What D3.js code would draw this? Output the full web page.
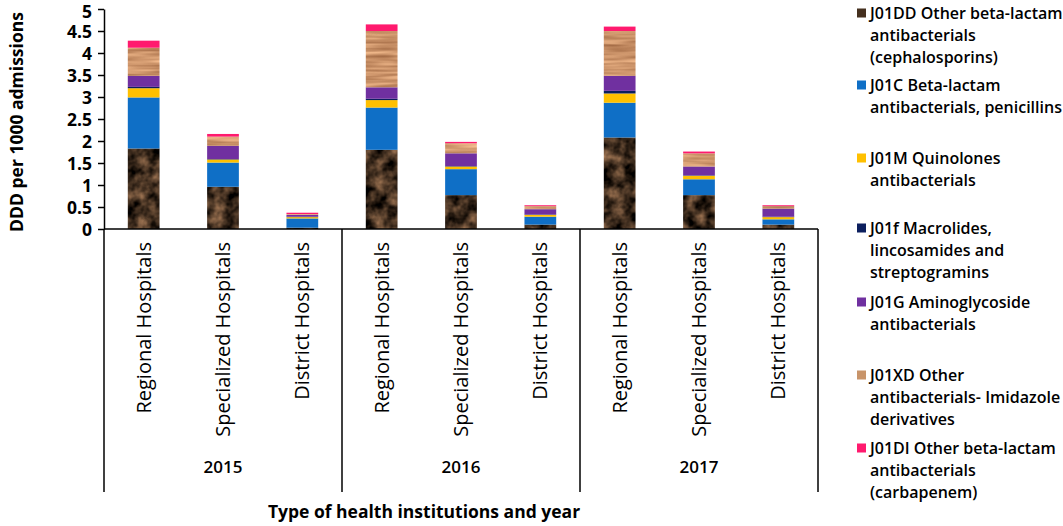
<!DOCTYPE html>
<html>
<head>
<meta charset="utf-8">
<title>DDD per 1000 admissions</title>
<script src="https://cdn.jsdelivr.net/npm/d3@7"></script>
<style>
    body { margin: 0; background: #fff; }
    text { font-family: "Open Sans", sans-serif; fill: #000; }
    .axis path, .axis line { stroke: #000; stroke-width: 1.5px; }
    .axis text { font-size: 17.5px; font-weight: 700; }
    filter { color-interpolation-filters: sRGB; }
</style>
</head>
<body>
<script>
// data
var years = ["2015", "2016", "2017"];
var hospitals = ["Regional Hospitals", "Specialized Hospitals", "District Hospitals"];
var series = [
    "J01DD Other beta-lactam antibacterials (cephalosporins)",
    "J01C Beta-lactam antibacterials, penicillins",
    "J01M Quinolones antibacterials",
    "J01f Macrolides, lincosamides and streptogramins",
    "J01G Aminoglycoside antibacterials",
    "J01XD Other antibacterials- Imidazole derivatives",
    "J01DI Other beta-lactam antibacterials (carbapenem)"
];
// order: 2015 R,S,D | 2016 R,S,D | 2017 R,S,D
var j01dd = [1.83, 0.96, 0.03, 1.80, 0.77, 0.10, 2.08, 0.77, 0.10];
var j01c  = [1.16, 0.55, 0.21, 0.96, 0.59, 0.18, 0.79, 0.36, 0.12];
var j01m  = [0.21, 0.07, 0.03, 0.17, 0.06, 0.04, 0.21, 0.08, 0.05];
var j01f  = [0.03, 0.01, 0.01, 0.03, 0.01, 0.01, 0.06, 0.01, 0.01];
var j01g  = [0.25, 0.30, 0.04, 0.26, 0.29, 0.12, 0.34, 0.20, 0.18];
var j01xd = [0.64, 0.21, 0.02, 1.28, 0.23, 0.07, 1.02, 0.30, 0.06];
var j01di = [0.16, 0.06, 0.03, 0.15, 0.03, 0.02, 0.10, 0.04, 0.02];
var yTicks = [0, 0.5, 1, 1.5, 2, 2.5, 3, 3.5, 4, 4.5, 5];

// legend text broken as in the picture
var legendLines = [
    ["J01DD Other beta-lactam", "antibacterials", "(cephalosporins)"],
    ["J01C Beta-lactam", "antibacterials, penicillins"],
    ["J01M Quinolones", "antibacterials"],
    ["J01f Macrolides,", "lincosamides and", "streptogramins"],
    ["J01G Aminoglycoside", "antibacterials"],
    ["J01XD Other", "antibacterials- Imidazole", "derivatives"],
    ["J01DI Other beta-lactam", "antibacterials", "(carbapenem)"]
];
var values = [j01dd, j01c, j01m, j01f, j01g, j01xd, j01di];
var swatch = ["#45301f", "#0f6fc6", "#ffc000", "#0c1f5e", "#7030a0", "#c8946a", "#ff1a6e"];

var width = 1063, height = 526;
var plotLeft = 104, plotRight = 818, plotTop = 9, plotBottom = 229;

var keys = [];
years.forEach(function (yr) {
    hospitals.forEach(function (h) { keys.push(yr + "|" + h); });
});

var rows = keys.map(function (k, i) {
    var r = { key: k };
    series.forEach(function (s, j) { r[s] = values[j][i]; });
    return r;
});

var stack = d3.stack().keys(series)(rows);

var x = d3.scaleBand()
        .domain(keys)
        .range([plotLeft, plotRight])
        .paddingInner(0.6)
        .paddingOuter(0.3);

var y = d3.scaleLinear()
        .domain([0, 5])
        .range([plotBottom, plotTop]);

var svg = d3.select("body").append("svg")
        .attr("width", width)
        .attr("height", height);

var defs = svg.append("defs");

// mottled dark brown texture
var fm = defs.append("filter").attr("id", "marbleTex")
        .attr("x", 0).attr("y", 0).attr("width", 1).attr("height", 1);
fm.append("feTurbulence").attr("type", "fractalNoise")
        .attr("baseFrequency", "0.08").attr("numOctaves", 3).attr("seed", 4);
fm.append("feColorMatrix").attr("type", "matrix")
        .attr("values", "1.0 0 0 0 -0.24  0.75 0 0 0 -0.19  0.55 0 0 0 -0.15  0 0 0 0 1");
fm.append("feComposite").attr("operator", "in").attr("in2", "SourceGraphic");

// streaky tan texture
var fw = defs.append("filter").attr("id", "woodTex")
        .attr("x", 0).attr("y", 0).attr("width", 1).attr("height", 1);
fw.append("feTurbulence").attr("type", "fractalNoise")
        .attr("baseFrequency", "0.02 0.25").attr("numOctaves", 2).attr("seed", 2);
fw.append("feColorMatrix").attr("type", "matrix")
        .attr("values", "0.5 0 0 0 0.55  0.5 0 0 0 0.33  0.45 0 0 0 0.19  0 0 0 0 1");
fw.append("feComposite").attr("operator", "in").attr("in2", "SourceGraphic");

// bars
var layer = svg.append("g").selectAll("g")
        .data(stack)
        .join("g");

layer.selectAll("rect")
        .data(function (d) { return d.map(function (p) { p.idx = d.index; return p; }); })
        .join("rect")
        .attr("x", function (d) { return x(d.data.key); })
        .attr("y", function (d) { return y(d[1]); })
        .attr("width", x.bandwidth())
        .attr("height", function (d) { return y(d[0]) - y(d[1]); })
        .attr("fill", function (d) { return swatch[d.idx]; })
        .attr("filter", function (d) {
            if (d.idx === 0) return "url(#marbleTex)";
            if (d.idx === 5) return "url(#woodTex)";
            return null;
        });

// y axis
svg.append("g")
        .attr("class", "axis")
        .attr("transform", "translate(" + plotLeft + ",0)")
        .call(d3.axisLeft(y).tickValues(yTicks).tickSize(6).tickSizeOuter(0)
                .tickFormat(function (d) { return d; }))
        .call(function (g) {
            g.selectAll("text").attr("x", -12)
                    .attr("dy", function (d) { return d === 5 ? "0.5em" : "0.35em"; });
        });

// x axis baseline and group dividers
var groupEnd = 492;
var xa = svg.append("g").attr("class", "axis");
xa.append("line")
        .attr("x1", plotLeft).attr("x2", plotRight)
        .attr("y1", plotBottom).attr("y2", plotBottom);

var groupEdges = years.map(function (yr) { return x(yr + "|" + hospitals[0]) - x.step() * x.paddingOuter(); });
groupEdges.push(plotRight);
xa.selectAll(".div")
        .data(groupEdges)
        .join("line")
        .attr("class", "div")
        .attr("x1", function (d) { return d; }).attr("x2", function (d) { return d; })
        .attr("y1", plotBottom).attr("y2", groupEnd);

// category labels, rotated
svg.append("g").selectAll("text")
        .data(keys)
        .join("text")
        .attr("transform", function (d) {
            return "translate(" + (x(d) + x.bandwidth() / 2) + "," + 242 + ") rotate(-90)";
        })
        .attr("text-anchor", "end")
        .attr("dy", "0.35em")
        .style("font-size", "20px")
        .style("font-weight", 500)
        .text(function (d) { return d.split("|")[1]; });

// year labels
svg.append("g").selectAll("text")
        .data(years)
        .join("text")
        .attr("x", function (d, i) { return (groupEdges[i] + groupEdges[i + 1]) / 2; })
        .attr("y", 467)
        .attr("dy", "0.35em")
        .attr("text-anchor", "middle")
        .style("font-size", "17px")
        .style("font-weight", 600)
        .text(function (d) { return d; });

// axis titles
svg.append("text")
        .attr("x", 424)
        .attr("y", 512)
        .attr("dy", "0.35em")
        .attr("text-anchor", "middle")
        .style("font-size", "17.5px")
        .style("font-weight", 700)
        .text("Type of health institutions and year");

svg.append("text")
        .attr("transform", "translate(17,122) rotate(-90)")
        .attr("dy", "0.35em")
        .attr("text-anchor", "middle")
        .style("font-size", "17.5px")
        .style("font-weight", 700)
        .text("DDD per 1000 admissions");

// legend
var lineH = 22;
var itemTop = [13, 85, 158, 228, 302, 375, 448];
var legend = svg.append("g").selectAll("g")
        .data(legendLines)
        .join("g")
        .attr("transform", function (d, i) { return "translate(857," + itemTop[i] + ")"; });

legend.append("rect")
        .attr("x", 0).attr("y", -4.5)
        .attr("width", 9).attr("height", 9)
        .attr("fill", function (d, i) { return swatch[i]; });

legend.append("text")
        .style("font-size", "16px")
        .style("font-weight", 600)
        .selectAll("tspan")
        .data(function (d) { return d; })
        .join("tspan")
        .attr("x", 13)
        .attr("y", function (d, i) { return i * lineH; })
        .attr("dy", "0.35em")
        .text(function (d) { return d; });
</script>
</body>
</html>
